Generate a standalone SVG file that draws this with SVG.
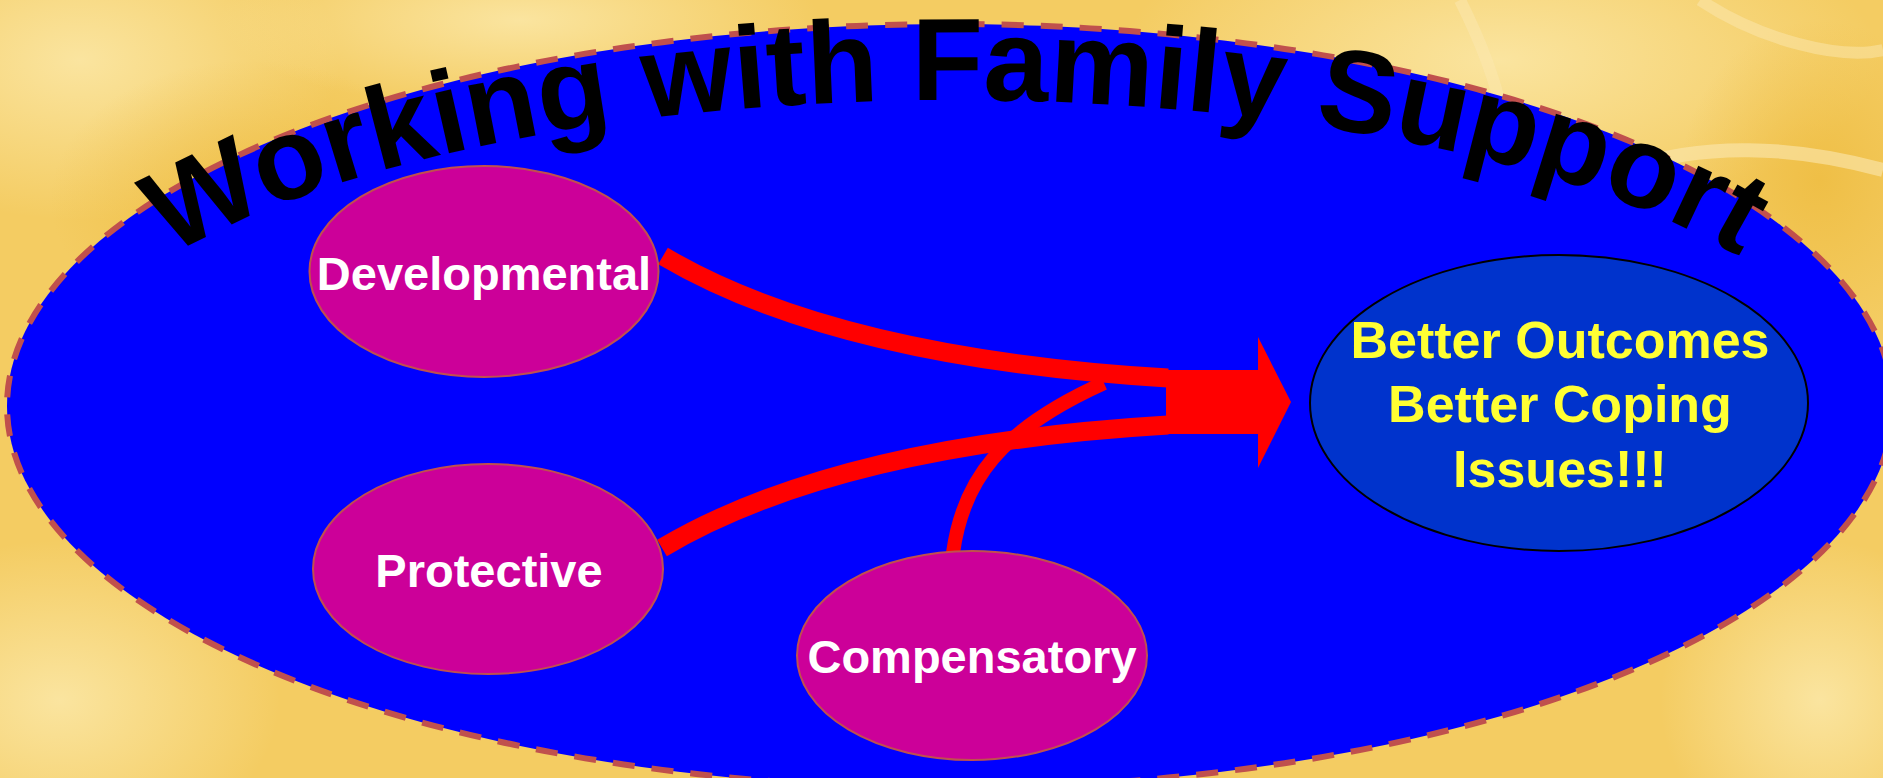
<svg xmlns="http://www.w3.org/2000/svg" width="1883" height="778" viewBox="0 0 1883 778">
<defs>
<style>
.bub{fill:#CC0099;stroke:#C0504D;stroke-width:2}
.lbl{font-family:"Liberation Sans",Arial,sans-serif;font-weight:bold;font-size:47px;fill:#FFFFFF;text-anchor:middle}
.out{font-family:"Liberation Sans",Arial,sans-serif;font-weight:bold;font-size:52px;fill:#FFFF33;text-anchor:middle}
.flow{fill:none;stroke:#FF0000;stroke-linecap:butt}
</style>
<radialGradient id="bgA" cx="0.5" cy="0.5" r="0.5">
<stop offset="0" stop-color="#FBE7A6" stop-opacity="0.9"/>
<stop offset="1" stop-color="#FBE7A6" stop-opacity="0"/>
</radialGradient>
<radialGradient id="bgB" cx="0.5" cy="0.5" r="0.5">
<stop offset="0" stop-color="#EDB93A" stop-opacity="0.7"/>
<stop offset="1" stop-color="#EDB93A" stop-opacity="0"/>
</radialGradient>
<path id="titleArc" d="M 55 408 A 900 308 0 0 1 1855 408"/>
</defs>
<g id="background">
<rect x="0" y="0" width="1883" height="778" fill="#F4CC62"/>
<ellipse cx="80" cy="60" rx="260" ry="160" fill="url(#bgA)"/>
<ellipse cx="520" cy="20" rx="300" ry="90" fill="url(#bgA)"/>
<ellipse cx="1500" cy="60" rx="380" ry="160" fill="url(#bgA)"/>
<ellipse cx="60" cy="700" rx="220" ry="160" fill="url(#bgA)"/>
<ellipse cx="1820" cy="700" rx="160" ry="160" fill="url(#bgA)"/>
<ellipse cx="250" cy="200" rx="200" ry="140" fill="url(#bgB)"/>
<ellipse cx="1820" cy="180" rx="140" ry="160" fill="url(#bgB)"/>
<path d="M1480 340 C1520 160, 1700 120, 1883 170" fill="none" stroke="#FBE8B0" stroke-width="14" opacity="0.6"/>
<path d="M1460 0 C1500 80, 1520 150, 1500 230" fill="none" stroke="#FBE8B0" stroke-width="12" opacity="0.5"/>
<path d="M1700 0 C1760 40, 1840 60, 1883 50" fill="none" stroke="#FBE8B0" stroke-width="12" opacity="0.5"/>
</g>
<g id="frame">
<ellipse cx="950" cy="406" rx="943" ry="382" fill="#0000FF" stroke="#C0504D" stroke-width="6" stroke-dasharray="22 17"/>
</g>
<g id="title">
<text font-family="'Liberation Sans',Arial,sans-serif" font-weight="bold" font-size="117" fill="#000000"><textPath href="#titleArc" startOffset="50%" text-anchor="middle">Working with Family Support</textPath></text>
</g>
<g id="connectors">
<path class="flow" stroke-width="19" d="M663 256 C780 325, 950 365, 1168 378"/>
<path class="flow" stroke-width="19" d="M662 548 C780 478, 950 438, 1168 425"/>
<path class="flow" stroke-width="14" d="M953 553 C963 480, 1000 430, 1104 383"/>
<polygon fill="#FF0000" points="1166,370 1258,370 1258,337 1291,402 1258,468 1258,434 1166,434"/>
</g>
<g id="developmental">
<ellipse class="bub" cx="484" cy="271.5" rx="174.5" ry="105.5"/>
<text class="lbl" x="484" y="290">Developmental</text>
</g>
<g id="protective">
<ellipse class="bub" cx="488" cy="569" rx="175" ry="105"/>
<text class="lbl" x="489" y="587">Protective</text>
</g>
<g id="compensatory">
<ellipse class="bub" cx="972" cy="655.5" rx="175" ry="104.5"/>
<text class="lbl" x="972" y="673">Compensatory</text>
</g>
<g id="outcomes">
<ellipse cx="1559" cy="403" rx="249" ry="148" fill="#0033CC" stroke="#000000" stroke-width="2"/>
<text class="out" x="1560" y="358">Better Outcomes</text>
<text class="out" x="1560" y="422">Better Coping</text>
<text class="out" x="1560" y="487">Issues!!!</text>
</g>
</svg>
